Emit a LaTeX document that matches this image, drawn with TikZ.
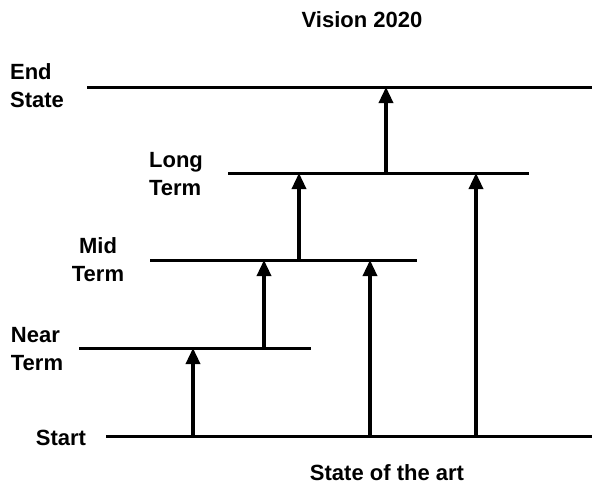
\documentclass[tikz,border=0pt]{standalone}
\usepackage{fontspec}
\setmainfont{Liberation Sans}
\usetikzlibrary{arrows.meta}
\begin{document}
\begin{tikzpicture}[x=1pt,y=-1pt,
  level/.style={line width=3pt},
  rise/.style={line width=3.4pt,-{Triangle[width=14pt,length=16pt]}},
  lbl/.style={font=\fontsize{22}{28}\selectfont\bfseries,align=center,inner sep=0pt}]
\useasboundingbox (0,0) rectangle (592,488);

% horizontal levels
\coordinate (endL) at (87,87);    \coordinate (endR) at (592,87);
\coordinate (longL) at (228,173); \coordinate (longR) at (529,173);
\coordinate (midL) at (150,260);  \coordinate (midR) at (417,260);
\coordinate (nearL) at (79,348);  \coordinate (nearR) at (311,348);
\coordinate (startL) at (106,436);\coordinate (startR) at (592,436);

\draw[level] (endL) -- (endR);
\draw[level] (longL) -- (longR);
\draw[level] (midL) -- (midR);
\draw[level] (nearL) -- (nearR);
\draw[level] (startL) -- (startR);

% arrow feet and tips
\coordinate (a1s) at (193,436); \coordinate (a1e) at (193,348);
\coordinate (a2s) at (264,348); \coordinate (a2e) at (264,260);
\coordinate (a3s) at (299,260); \coordinate (a3e) at (299,173);
\coordinate (a4s) at (386,173); \coordinate (a4e) at (386,87);
\coordinate (a5s) at (370,436); \coordinate (a5e) at (370,260);
\coordinate (a6s) at (476,436); \coordinate (a6e) at (476,173);

\draw[rise] (a1s) -- (a1e);
\draw[rise] (a2s) -- (a2e);
\draw[rise] (a3s) -- (a3e);
\draw[rise] (a4s) -- (a4e);
\draw[rise] (a5s) -- (a5e);
\draw[rise] (a6s) -- (a6e);

% labels
\node[lbl] (vision) at (362,20) {Vision 2020};
\node[lbl,align=left] (endlbl) at (37,86) {End\\State};
\node[lbl,align=left] (longlbl) at (176,174) {Long\\Term};
\node[lbl] (midlbl) at (98,260) {Mid\\Term};
\node[lbl,align=left] (nearlbl) at (37,349) {Near\\Term};
\node[lbl] (startlbl) at (61,438) {Start};
\node[lbl] (sota) at (387,473) {State of the art};
\end{tikzpicture}
\end{document}
